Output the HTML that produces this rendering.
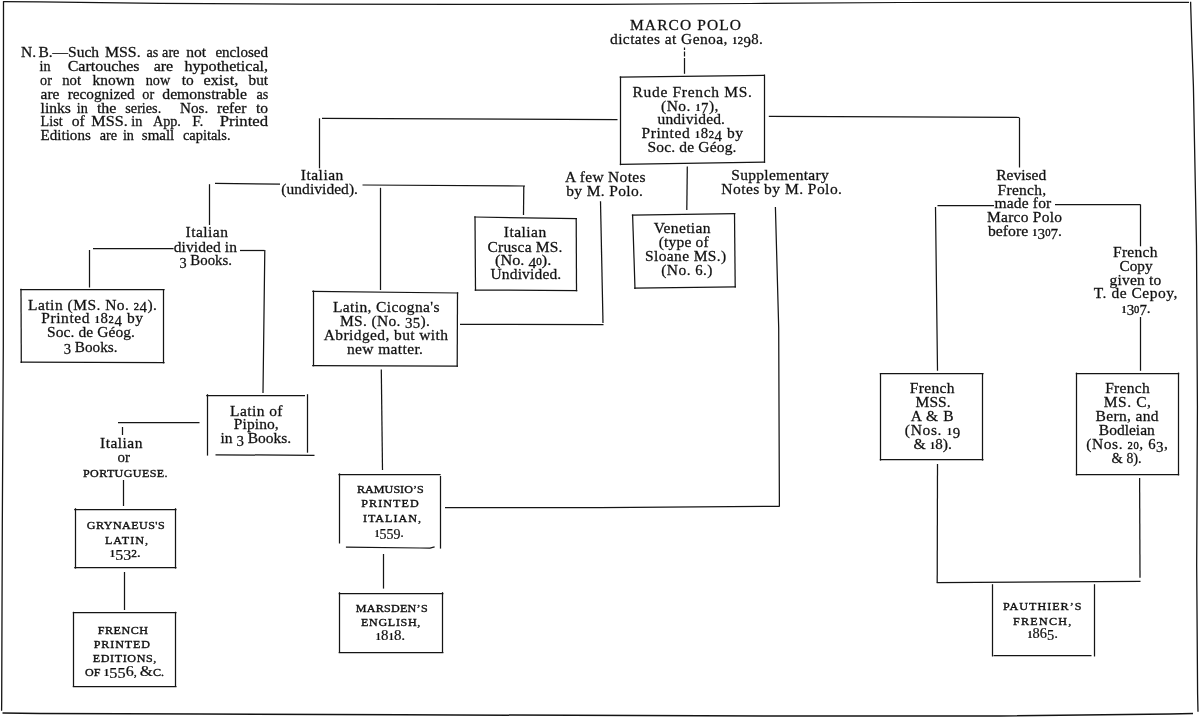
<!DOCTYPE html>
<html><head><meta charset="utf-8"><title>Marco Polo MSS. genealogy</title>
<style>
html,body{margin:0;padding:0;background:#fff;}
body{width:1200px;height:718px;overflow:hidden;}
svg{display:block;position:absolute;left:0;top:0;will-change:transform;filter:grayscale(1);}
svg path{stroke:#141414;fill:none;stroke-linecap:butt;stroke-linejoin:miter;}
svg text{font-family:"Liberation Serif",serif;fill:#111;white-space:pre;stroke:#111;stroke-width:0.26px;}
svg text.sc{stroke-width:0.2px;}
svg text.sc tspan.c{stroke-width:0.36px;}
svg tspan.sb{font-weight:bold;stroke-width:0;}
svg tspan.sd{stroke-width:0.38px;}
</style></head><body>
<svg width="1200" height="718" viewBox="0 0 1200 718" font-size="15">
<path d="M3.20 1.60 L40.00 1.90 L160.00 3.40 L300.00 4.20 L460.00 4.30 L600.00 4.40 L750.00 3.50 L900.00 2.50 L1189.00 2.30" stroke-width="1.25"/>
<path d="M1190.60 1.80 L1191.60 36.00 L1193.40 86.00 L1196.50 246.00 L1197.40 406.00 L1196.70 566.00 L1197.60 694.00 L1198.00 711.70" stroke-width="1.30"/>
<path d="M2.50 713.00 L40.00 713.40 L200.00 714.00 L400.00 714.80 L800.00 716.00 L1000.00 716.00 L1170.00 714.10 L1193.00 713.40" stroke-width="1.50"/>
<path d="M3.50 1.20 L3.40 180.00 L3.30 346.00 L2.30 526.00 L1.70 700.00 L1.60 710.70" stroke-width="1.30"/>
<path d="M684.50 47.50 L684.50 50.00" stroke-width="1.25"/>
<path d="M684.50 51.50 L684.50 56.50" stroke-width="1.25"/>
<path d="M684.50 58.00 L684.50 73.80" stroke-width="1.25"/>
<path d="M619.70 77.20 L765.00 75.40" stroke-width="1.25"/>
<path d="M764.50 74.60 L764.50 162.90" stroke-width="1.25"/>
<path d="M619.80 164.40 L765.10 162.10" stroke-width="1.25"/>
<path d="M620.50 76.40 L620.50 165.20" stroke-width="1.25"/>
<path d="M617.50 119.70 L322.00 118.30" stroke-width="1.25"/>
<path d="M319.50 118.30 L319.50 168.30" stroke-width="1.25"/>
<path d="M768.80 116.30 L900.00 116.80 L1019.50 117.50" stroke-width="1.25"/>
<path d="M1019.50 118.00 L1019.50 167.50" stroke-width="1.25"/>
<path d="M215.00 183.30 L280.00 184.20" stroke-width="1.25"/>
<path d="M209.50 184.20 L209.50 225.00" stroke-width="1.25"/>
<path d="M362.50 185.00 L525.00 186.00" stroke-width="1.25"/>
<path d="M380.50 187.80 L380.50 290.00" stroke-width="1.25"/>
<path d="M523.80 186.00 L523.50 215.00" stroke-width="1.25"/>
<path d="M93.00 248.50 L173.60 248.50" stroke-width="1.25"/>
<path d="M89.50 250.00 L89.50 287.50" stroke-width="1.25"/>
<path d="M240.00 250.50 L264.50 250.50" stroke-width="1.25"/>
<path d="M264.80 250.00 L263.80 330.00 L263.00 393.00" stroke-width="1.25"/>
<path d="M20.20 289.50 L164.60 289.50" stroke-width="1.25"/>
<path d="M163.50 289.00 L163.50 363.40" stroke-width="1.25"/>
<path d="M20.50 362.20 L164.60 362.60" stroke-width="1.25"/>
<path d="M21.00 288.80 L21.30 363.00" stroke-width="1.25"/>
<path d="M474.20 217.00 L577.00 218.70" stroke-width="1.25"/>
<path d="M576.20 217.90 L576.50 291.30" stroke-width="1.25"/>
<path d="M474.70 290.00 L577.30 290.50" stroke-width="1.25"/>
<path d="M475.00 216.20 L475.50 290.80" stroke-width="1.25"/>
<path d="M312.20 291.30 L458.30 293.00" stroke-width="1.25"/>
<path d="M457.50 292.20 L457.20 366.80" stroke-width="1.25"/>
<path d="M312.20 365.50 L458.00 366.00" stroke-width="1.25"/>
<path d="M313.50 290.50 L313.50 366.30" stroke-width="1.25"/>
<path d="M600.50 201.30 L603.00 323.00" stroke-width="1.25"/>
<path d="M460.00 324.30 L603.50 324.60" stroke-width="1.25"/>
<path d="M687.30 166.50 L686.80 210.00" stroke-width="1.25"/>
<path d="M631.80 215.20 L735.30 213.70" stroke-width="1.25"/>
<path d="M734.50 212.90 L735.20 287.60" stroke-width="1.25"/>
<path d="M634.20 288.20 L736.00 286.80" stroke-width="1.25"/>
<path d="M632.60 214.40 L635.00 289.00" stroke-width="1.25"/>
<path d="M775.40 207.00 L778.70 328.00 L779.40 506.00" stroke-width="1.25"/>
<path d="M445.00 507.50 L600.00 507.50 L779.80 506.30" stroke-width="1.25"/>
<path d="M937.50 205.50 L994.00 205.50" stroke-width="1.25"/>
<path d="M935.50 207.00 L937.00 330.00 L937.50 370.80" stroke-width="1.25"/>
<path d="M1055.00 204.50 L1140.50 204.50" stroke-width="1.25"/>
<path d="M1140.50 204.50 L1140.50 246.30" stroke-width="1.25"/>
<path d="M1140.50 317.00 L1140.50 370.80" stroke-width="1.25"/>
<path d="M879.80 373.50 L983.50 373.50" stroke-width="1.25"/>
<path d="M982.50 373.00 L982.50 460.60" stroke-width="1.25"/>
<path d="M879.80 459.50 L983.50 459.50" stroke-width="1.25"/>
<path d="M880.50 373.00 L880.50 460.60" stroke-width="1.25"/>
<path d="M1075.80 373.50 L1179.20 373.50" stroke-width="1.25"/>
<path d="M1178.50 372.60 L1178.50 475.40" stroke-width="1.25"/>
<path d="M1075.80 474.50 L1179.20 474.50" stroke-width="1.25"/>
<path d="M1076.50 372.60 L1076.50 475.40" stroke-width="1.25"/>
<path d="M937.50 464.00 L937.20 582.70" stroke-width="1.25"/>
<path d="M1139.60 478.00 L1140.00 577.80" stroke-width="1.25"/>
<path d="M936.70 582.70 L1140.50 581.30" stroke-width="1.25"/>
<path d="M992.50 584.20 L992.50 656.50" stroke-width="1.25"/>
<path d="M1094.50 584.20 L1094.50 656.50" stroke-width="1.25"/>
<path d="M993.50 655.50 L1091.50 655.50" stroke-width="1.25"/>
<path d="M381.30 369.50 L382.50 470.00" stroke-width="1.25"/>
<path d="M338.40 474.50 L440.60 474.50" stroke-width="1.25"/>
<path d="M339.50 473.40 L339.50 543.50" stroke-width="1.25"/>
<path d="M345.90 547.10 L420.00 548.00 L430.00 548.00 L434.60 546.90" stroke-width="1.25"/>
<path d="M440.50 476.00 L440.50 548.60" stroke-width="1.25"/>
<path d="M383.50 554.00 L383.50 588.60" stroke-width="1.25"/>
<path d="M338.70 593.50 L443.40 593.50" stroke-width="1.25"/>
<path d="M442.50 592.20 L442.50 653.00" stroke-width="1.25"/>
<path d="M338.70 652.50 L443.40 652.50" stroke-width="1.25"/>
<path d="M339.50 592.20 L339.50 653.00" stroke-width="1.25"/>
<path d="M206.20 395.50 L305.00 395.50" stroke-width="1.25"/>
<path d="M307.50 394.20 L307.50 452.70" stroke-width="1.25"/>
<path d="M215.50 454.80 L314.50 455.30" stroke-width="1.25"/>
<path d="M207.50 394.20 L207.50 455.60" stroke-width="1.25"/>
<path d="M118.00 422.50 L199.50 422.50" stroke-width="1.25"/>
<path d="M122.50 427.00 L122.50 435.00" stroke-width="1.25"/>
<path d="M123.50 480.00 L123.50 506.00" stroke-width="1.25"/>
<path d="M74.20 509.50 L176.50 509.50" stroke-width="1.25"/>
<path d="M175.50 508.20 L175.50 568.60" stroke-width="1.25"/>
<path d="M74.20 567.50 L176.50 567.50" stroke-width="1.25"/>
<path d="M75.50 508.20 L75.50 568.60" stroke-width="1.25"/>
<path d="M124.50 572.00 L124.50 610.00" stroke-width="1.25"/>
<path d="M72.80 612.50 L176.50 612.50" stroke-width="1.25"/>
<path d="M175.50 611.80 L175.50 687.00" stroke-width="1.25"/>
<path d="M72.80 686.50 L176.50 686.50" stroke-width="1.25"/>
<path d="M73.50 611.80 L73.50 687.00" stroke-width="1.25"/>
<text y="57.40" font-size="14.5"><tspan x="21.10" textLength="15.10" lengthAdjust="spacingAndGlyphs">N.</tspan> <tspan x="38.40" textLength="60.70" lengthAdjust="spacingAndGlyphs">B.—Such</tspan> <tspan x="104.90" textLength="35.80" lengthAdjust="spacingAndGlyphs">MSS.</tspan> <tspan x="146.43" textLength="11.84" lengthAdjust="spacingAndGlyphs">as</tspan> <tspan x="162.08" textLength="17.35" lengthAdjust="spacingAndGlyphs">are</tspan> <tspan x="186.20" textLength="19.90" lengthAdjust="spacingAndGlyphs">not</tspan> <tspan x="215.40" textLength="52.70" lengthAdjust="spacingAndGlyphs">enclosed</tspan></text>
<text y="71.20" font-size="14.5"><tspan x="39.62" textLength="11.05" lengthAdjust="spacingAndGlyphs">in</tspan> <tspan x="67.70" textLength="71.90" lengthAdjust="spacingAndGlyphs">Cartouches</tspan> <tspan x="153.70" textLength="19.50" lengthAdjust="spacingAndGlyphs">are</tspan> <tspan x="184.40" textLength="83.70" lengthAdjust="spacingAndGlyphs">hypothetical,</tspan></text>
<text y="84.90" font-size="14.5"><tspan x="40.08" textLength="11.84" lengthAdjust="spacingAndGlyphs">or</tspan> <tspan x="62.20" textLength="18.90" lengthAdjust="spacingAndGlyphs">not</tspan> <tspan x="92.60" textLength="42.00" lengthAdjust="spacingAndGlyphs">known</tspan> <tspan x="145.76" textLength="24.47" lengthAdjust="spacingAndGlyphs">now</tspan> <tspan x="181.80" textLength="12.00" lengthAdjust="spacingAndGlyphs">to</tspan> <tspan x="203.50" textLength="34.70" lengthAdjust="spacingAndGlyphs">exist,</tspan> <tspan x="248.60" textLength="19.50" lengthAdjust="spacingAndGlyphs">but</tspan></text>
<text y="98.80" font-size="14.5"><tspan x="40.60" textLength="18.80" lengthAdjust="spacingAndGlyphs">are</tspan> <tspan x="67.70" textLength="66.90" lengthAdjust="spacingAndGlyphs">recognized</tspan> <tspan x="142.33" textLength="11.84" lengthAdjust="spacingAndGlyphs">or</tspan> <tspan x="162.30" textLength="84.60" lengthAdjust="spacingAndGlyphs">demonstrable</tspan> <tspan x="256.43" textLength="11.84" lengthAdjust="spacingAndGlyphs">as</tspan></text>
<text y="112.50" font-size="14.5"><tspan x="40.60" textLength="30.30" lengthAdjust="spacingAndGlyphs">links</tspan> <tspan x="76.82" textLength="11.05" lengthAdjust="spacingAndGlyphs">in</tspan> <tspan x="96.90" textLength="19.50" lengthAdjust="spacingAndGlyphs">the</tspan> <tspan x="125.30" textLength="35.90" lengthAdjust="spacingAndGlyphs">series.</tspan> <tspan x="180.10" textLength="28.20" lengthAdjust="spacingAndGlyphs">Nos.</tspan> <tspan x="217.00" textLength="29.40" lengthAdjust="spacingAndGlyphs">refer</tspan> <tspan x="256.00" textLength="12.10" lengthAdjust="spacingAndGlyphs">to</tspan></text>
<text y="126.10" font-size="14.5"><tspan x="40.60" textLength="22.11" lengthAdjust="spacingAndGlyphs">List</tspan> <tspan x="71.80" textLength="13.00" lengthAdjust="spacingAndGlyphs">of</tspan> <tspan x="91.30" textLength="36.40" lengthAdjust="spacingAndGlyphs">MSS.</tspan> <tspan x="131.37" textLength="11.05" lengthAdjust="spacingAndGlyphs">in</tspan> <tspan x="152.89" textLength="28.02" lengthAdjust="spacingAndGlyphs">App.</tspan> <tspan x="192.20" textLength="11.30" lengthAdjust="spacingAndGlyphs">F.</tspan> <tspan x="219.80" textLength="48.30" lengthAdjust="spacingAndGlyphs">Printed</tspan></text>
<text y="140.00" font-size="14.5"><tspan x="40.60" textLength="50.20" lengthAdjust="spacingAndGlyphs">Editions</tspan> <tspan x="99.68" textLength="17.35" lengthAdjust="spacingAndGlyphs">are</tspan> <tspan x="122.92" textLength="11.05" lengthAdjust="spacingAndGlyphs">in</tspan> <tspan x="141.80" textLength="32.50" lengthAdjust="spacingAndGlyphs">small</tspan> <tspan x="182.90" textLength="47.70" lengthAdjust="spacingAndGlyphs">capitals.</tspan></text>
<text transform="translate(630.00 29.90) scale(1.035 1)" textLength="107.25" lengthAdjust="spacing"><tspan font-size="15.00">MARCO POLO</tspan></text>
<text transform="translate(610.00 44.15) scale(1.035 1)" textLength="147.83" lengthAdjust="spacing"><tspan font-size="15.00">dictates at Genoa, </tspan><tspan font-size="10.50" class="sb">1</tspan><tspan font-size="10.20" class="sd">2</tspan><tspan font-size="14.40" dy="2.40">9</tspan><tspan font-size="14.25" dy="-2.40">8</tspan><tspan font-size="15.00">.</tspan></text>
<text transform="translate(632.50 96.65) scale(1.035 1)" textLength="115.46" lengthAdjust="spacing"><tspan font-size="15.00">Rude French MS.</tspan></text>
<text transform="translate(661.00 110.90) scale(1.035 1)" textLength="55.56" lengthAdjust="spacing"><tspan font-size="15.00">(No. </tspan><tspan font-size="10.50" class="sb">1</tspan><tspan font-size="14.40" dy="2.40">7</tspan><tspan font-size="15.00" dy="-2.40">),</tspan></text>
<text transform="translate(657.50 124.15) scale(1.035 1)" textLength="65.22" lengthAdjust="spacing"><tspan font-size="15.00">undivided.</tspan></text>
<text transform="translate(641.50 138.40) scale(1.035 1)" textLength="98.07" lengthAdjust="spacing"><tspan font-size="15.00">Printed </tspan><tspan font-size="10.50" class="sb">1</tspan><tspan font-size="14.25">8</tspan><tspan font-size="10.20" class="sd">2</tspan><tspan font-size="14.40" dy="2.40">4</tspan><tspan font-size="15.00" dy="-2.40"> by</tspan></text>
<text transform="translate(647.50 152.15) scale(1.035 1)" textLength="85.99" lengthAdjust="spacing"><tspan font-size="15.00">Soc. de Géog.</tspan></text>
<text transform="translate(300.80 180.40) scale(1.035 1)" textLength="41.06" lengthAdjust="spacing"><tspan font-size="15.00">Italian</tspan></text>
<text transform="translate(281.30 193.70) scale(1.035 1)" textLength="74.11" lengthAdjust="spacing"><tspan font-size="15.00">(undivided).</tspan></text>
<text transform="translate(185.50 237.40) scale(1.035 1)" textLength="41.06" lengthAdjust="spacing"><tspan font-size="15.00">Italian</tspan></text>
<text transform="translate(173.75 251.65) scale(1.035 1)" textLength="61.11" lengthAdjust="spacing"><tspan font-size="15.00">divided in</tspan></text>
<text x="179.50" y="265.40" textLength="52.50" lengthAdjust="spacingAndGlyphs"><tspan font-size="14.40" dy="2.40">3</tspan><tspan font-size="15.00" dy="-2.40"> Books.</tspan></text>
<text transform="translate(28.00 309.90) scale(1.035 1)" textLength="124.64" lengthAdjust="spacing"><tspan font-size="15.00">Latin (MS. No. </tspan><tspan font-size="10.20" class="sd">2</tspan><tspan font-size="14.40" dy="2.40">4</tspan><tspan font-size="15.00" dy="-2.40">).</tspan></text>
<text transform="translate(41.25 323.40) scale(1.035 1)" textLength="98.31" lengthAdjust="spacing"><tspan font-size="15.00">Printed </tspan><tspan font-size="10.50" class="sb">1</tspan><tspan font-size="14.25">8</tspan><tspan font-size="10.20" class="sd">2</tspan><tspan font-size="14.40" dy="2.40">4</tspan><tspan font-size="15.00" dy="-2.40"> by</tspan></text>
<text transform="translate(47.00 337.40) scale(1.035 1)" textLength="85.02" lengthAdjust="spacing"><tspan font-size="15.00">Soc. de Géog.</tspan></text>
<text x="63.75" y="351.65" textLength="53.75" lengthAdjust="spacingAndGlyphs"><tspan font-size="14.40" dy="2.40">3</tspan><tspan font-size="15.00" dy="-2.40"> Books.</tspan></text>
<text transform="translate(503.75 237.40) scale(1.035 1)" textLength="41.06" lengthAdjust="spacing"><tspan font-size="15.00">Italian</tspan></text>
<text transform="translate(487.50 251.65) scale(1.035 1)" textLength="72.46" lengthAdjust="spacing"><tspan font-size="15.00">Crusca MS.</tspan></text>
<text x="495.00" y="265.40" textLength="56.25" lengthAdjust="spacingAndGlyphs"><tspan font-size="15.00">(No. </tspan><tspan font-size="14.40" dy="2.40">4</tspan><tspan font-size="10.20" dy="-2.40" class="sd">0</tspan><tspan font-size="15.00">).</tspan></text>
<text transform="translate(490.50 279.15) scale(1.035 1)" textLength="68.36" lengthAdjust="spacing"><tspan font-size="15.00">Undivided.</tspan></text>
<text transform="translate(333.00 312.15) scale(1.035 1)" textLength="102.90" lengthAdjust="spacing"><tspan font-size="15.00">Latin, Cicogna's</tspan></text>
<text transform="translate(340.00 325.90) scale(1.035 1)" textLength="86.96" lengthAdjust="spacing"><tspan font-size="15.00">MS. (No. </tspan><tspan font-size="14.40" dy="2.40">35</tspan><tspan font-size="15.00" dy="-2.40">).</tspan></text>
<text transform="translate(323.75 339.90) scale(1.035 1)" textLength="120.05" lengthAdjust="spacing"><tspan font-size="15.00">Abridged, but with</tspan></text>
<text transform="translate(347.00 354.15) scale(1.035 1)" textLength="73.43" lengthAdjust="spacing"><tspan font-size="15.00">new matter.</tspan></text>
<text transform="translate(565.00 181.65) scale(1.035 1)" textLength="77.78" lengthAdjust="spacing"><tspan font-size="15.00">A few Notes</tspan></text>
<text transform="translate(566.25 195.90) scale(1.035 1)" textLength="74.15" lengthAdjust="spacing"><tspan font-size="15.00">by M. Polo.</tspan></text>
<text transform="translate(653.75 232.90) scale(1.035 1)" textLength="54.83" lengthAdjust="spacing"><tspan font-size="15.00">Venetian</tspan></text>
<text transform="translate(658.75 246.65) scale(1.035 1)" textLength="48.31" lengthAdjust="spacing"><tspan font-size="15.00">(type of</tspan></text>
<text transform="translate(645.00 260.90) scale(1.035 1)" textLength="78.50" lengthAdjust="spacing"><tspan font-size="15.00">Sloane MS.)</tspan></text>
<text transform="translate(661.25 274.65) scale(1.035 1)" textLength="49.52" lengthAdjust="spacing"><tspan font-size="15.00">(No. </tspan><tspan font-size="14.25">6</tspan><tspan font-size="15.00">.)</tspan></text>
<text transform="translate(731.25 179.90) scale(1.035 1)" textLength="94.20" lengthAdjust="spacing"><tspan font-size="15.00">Supplementary</tspan></text>
<text transform="translate(721.25 194.15) scale(1.035 1)" textLength="116.67" lengthAdjust="spacing"><tspan font-size="15.00">Notes by M. Polo.</tspan></text>
<text x="996.25" y="180.40" textLength="50.00" lengthAdjust="spacingAndGlyphs"><tspan font-size="15.00">Revised</tspan></text>
<text transform="translate(997.50 194.65) scale(1.035 1)" textLength="47.10" lengthAdjust="spacing"><tspan font-size="15.00">French,</tspan></text>
<text transform="translate(994.50 208.40) scale(1.035 1)" textLength="54.83" lengthAdjust="spacing"><tspan font-size="15.00">made for</tspan></text>
<text transform="translate(987.00 222.15) scale(1.035 1)" textLength="72.46" lengthAdjust="spacing"><tspan font-size="15.00">Marco Polo</tspan></text>
<text x="988.00" y="236.15" textLength="74.00" lengthAdjust="spacingAndGlyphs"><tspan font-size="15.00">before </tspan><tspan font-size="10.50" class="sb">1</tspan><tspan font-size="14.40" dy="2.40">3</tspan><tspan font-size="10.20" dy="-2.40" class="sd">0</tspan><tspan font-size="14.40" dy="2.40">7</tspan><tspan font-size="15.00" dy="-2.40">.</tspan></text>
<text transform="translate(1113.00 257.15) scale(1.035 1)" textLength="43.00" lengthAdjust="spacing"><tspan font-size="15.00">French</tspan></text>
<text x="1119.50" y="270.90" textLength="33.00" lengthAdjust="spacingAndGlyphs"><tspan font-size="15.00">Copy</tspan></text>
<text transform="translate(1109.50 284.65) scale(1.035 1)" textLength="50.00" lengthAdjust="spacing"><tspan font-size="15.00">given to</tspan></text>
<text transform="translate(1093.75 298.40) scale(1.035 1)" textLength="80.92" lengthAdjust="spacing"><tspan font-size="15.00">T. de Cepoy,</tspan></text>
<text x="1121.25" y="312.90" textLength="29.50" lengthAdjust="spacingAndGlyphs"><tspan font-size="10.50" class="sb">1</tspan><tspan font-size="14.40" dy="2.40">3</tspan><tspan font-size="10.20" dy="-2.40" class="sd">0</tspan><tspan font-size="14.40" dy="2.40">7</tspan><tspan font-size="15.00" dy="-2.40">.</tspan></text>
<text transform="translate(909.80 393.10) scale(1.035 1)" textLength="43.09" lengthAdjust="spacing"><tspan font-size="15.00">French</tspan></text>
<text transform="translate(915.60 406.80) scale(1.035 1)" textLength="33.82" lengthAdjust="spacing"><tspan font-size="15.00">MSS.</tspan></text>
<text transform="translate(910.70 420.80) scale(1.035 1)" textLength="41.35" lengthAdjust="spacing"><tspan font-size="15.00">A &amp; B</tspan></text>
<text transform="translate(904.80 435.40) scale(1.035 1)" textLength="53.53" lengthAdjust="spacing"><tspan font-size="15.00">(Nos. </tspan><tspan font-size="10.50" class="sb">1</tspan><tspan font-size="14.40" dy="2.40">9</tspan></text>
<text x="913.60" y="449.40" textLength="38.40" lengthAdjust="spacingAndGlyphs"><tspan font-size="15.00">&amp; </tspan><tspan font-size="10.50" class="sb">1</tspan><tspan font-size="14.25">8</tspan><tspan font-size="15.00">).</tspan></text>
<text transform="translate(1105.20 392.50) scale(1.035 1)" textLength="43.09" lengthAdjust="spacing"><tspan font-size="15.00">French</tspan></text>
<text transform="translate(1103.70 406.80) scale(1.035 1)" textLength="45.70" lengthAdjust="spacing"><tspan font-size="15.00">MS. C,</tspan></text>
<text transform="translate(1095.60 420.80) scale(1.035 1)" textLength="60.87" lengthAdjust="spacing"><tspan font-size="15.00">Bern, and</tspan></text>
<text x="1098.80" y="434.80" textLength="56.00" lengthAdjust="spacingAndGlyphs"><tspan font-size="15.00">Bodleian</tspan></text>
<text transform="translate(1086.20 449.40) scale(1.035 1)" textLength="79.03" lengthAdjust="spacing"><tspan font-size="15.00">(Nos. </tspan><tspan font-size="10.20" class="sd">20</tspan><tspan font-size="15.00">, </tspan><tspan font-size="14.25">6</tspan><tspan font-size="14.40" dy="2.40">3</tspan><tspan font-size="15.00" dy="-2.40">,</tspan></text>
<text x="1111.60" y="463.10" textLength="30.10" lengthAdjust="spacingAndGlyphs"><tspan font-size="15.00">&amp; </tspan><tspan font-size="14.25">8</tspan><tspan font-size="15.00">).</tspan></text>
<text transform="translate(230.00 415.90) scale(1.035 1)" textLength="50.72" lengthAdjust="spacing"><tspan font-size="15.00">Latin of</tspan></text>
<text transform="translate(233.75 429.15) scale(1.035 1)" textLength="43.48" lengthAdjust="spacing"><tspan font-size="15.00">Pipino,</tspan></text>
<text x="220.50" y="443.40" textLength="70.75" lengthAdjust="spacingAndGlyphs"><tspan font-size="15.00">in </tspan><tspan font-size="14.40" dy="2.40">3</tspan><tspan font-size="15.00" dy="-2.40"> Books.</tspan></text>
<text transform="translate(100.00 448.40) scale(1.035 1)" textLength="41.06" lengthAdjust="spacing"><tspan font-size="15.00">Italian</tspan></text>
<text x="117.50" y="462.40" textLength="12.50" lengthAdjust="spacingAndGlyphs"><tspan font-size="15.00">or</tspan></text>
<text transform="translate(83.00 476.65) scale(1.130 1)" textLength="74.78" lengthAdjust="spacing" class="sc"><tspan font-size="10.70" class="c">PORTUGUESE.</tspan></text>
<text transform="translate(86.80 529.40) scale(1.130 1)" textLength="68.94" lengthAdjust="spacing" class="sc"><tspan font-size="10.70" class="c">GRYNAEUS'S</tspan></text>
<text transform="translate(105.00 544.00) scale(1.130 1)" textLength="38.05" lengthAdjust="spacing" class="sc"><tspan font-size="10.70" class="c">LATIN,</tspan></text>
<text x="109.40" y="557.40" textLength="31.60" lengthAdjust="spacingAndGlyphs" class="sc"><tspan font-size="10.50" class="sb">1</tspan><tspan font-size="14.40" dy="2.40">53</tspan><tspan font-size="10.20" dy="-2.40" class="sd">2</tspan><tspan font-size="15.00">.</tspan></text>
<text transform="translate(97.80 633.90) scale(1.130 1)" textLength="44.42" lengthAdjust="spacing" class="sc"><tspan font-size="10.70" class="c">FRENCH</tspan></text>
<text transform="translate(93.80 647.80) scale(1.130 1)" textLength="49.73" lengthAdjust="spacing" class="sc"><tspan font-size="10.70" class="c">PRINTED</tspan></text>
<text transform="translate(92.80 662.00) scale(1.130 1)" textLength="56.28" lengthAdjust="spacing" class="sc"><tspan font-size="10.70" class="c">EDITIONS,</tspan></text>
<text transform="translate(85.00 676.00) scale(1.130 1)" textLength="69.91" lengthAdjust="spacing" class="sc"><tspan font-size="10.70" class="c">OF </tspan><tspan font-size="10.50" class="sb">1</tspan><tspan font-size="14.40" dy="2.40">55</tspan><tspan font-size="14.25" dy="-2.40">6</tspan><tspan font-size="10.70" class="c">, </tspan><tspan font-size="15.00">&amp;</tspan><tspan font-size="10.70" class="c">C.</tspan></text>
<text transform="translate(357.00 493.20) scale(1.130 1)" textLength="59.07" lengthAdjust="spacing" class="sc"><tspan font-size="10.70" class="c">RAMUSIO’S</tspan></text>
<text transform="translate(361.25 507.40) scale(1.130 1)" textLength="50.88" lengthAdjust="spacing" class="sc"><tspan font-size="10.70" class="c">PRINTED</tspan></text>
<text transform="translate(362.90 522.20) scale(1.130 1)" textLength="51.42" lengthAdjust="spacing" class="sc"><tspan font-size="10.70" class="c">ITALIAN,</tspan></text>
<text x="374.40" y="536.90" textLength="29.60" lengthAdjust="spacingAndGlyphs" class="sc"><tspan font-size="10.50" class="sb">1</tspan><tspan font-size="14.40" dy="2.40">559</tspan><tspan font-size="15.00" dy="-2.40">.</tspan></text>
<text transform="translate(355.70 612.00) scale(1.130 1)" textLength="63.63" lengthAdjust="spacing" class="sc"><tspan font-size="10.70" class="c">MARSDEN’S</tspan></text>
<text transform="translate(361.00 626.40) scale(1.130 1)" textLength="52.57" lengthAdjust="spacing" class="sc"><tspan font-size="10.70" class="c">ENGLISH,</tspan></text>
<text x="375.50" y="640.10" textLength="29.80" lengthAdjust="spacingAndGlyphs" class="sc"><tspan font-size="10.50" class="sb">1</tspan><tspan font-size="14.25">8</tspan><tspan font-size="10.50" class="sb">1</tspan><tspan font-size="14.25">8</tspan><tspan font-size="15.00">.</tspan></text>
<text transform="translate(1003.00 610.40) scale(1.130 1)" textLength="69.38" lengthAdjust="spacing" class="sc"><tspan font-size="10.70" class="c">PAUTHIER’S</tspan></text>
<text transform="translate(1013.00 624.60) scale(1.130 1)" textLength="51.68" lengthAdjust="spacing" class="sc"><tspan font-size="10.70" class="c">FRENCH,</tspan></text>
<text x="1027.30" y="637.80" textLength="30.70" lengthAdjust="spacingAndGlyphs" class="sc"><tspan font-size="10.50" class="sb">1</tspan><tspan font-size="14.25">86</tspan><tspan font-size="14.40" dy="2.40">5</tspan><tspan font-size="15.00" dy="-2.40">.</tspan></text>
</svg>
</body></html>
